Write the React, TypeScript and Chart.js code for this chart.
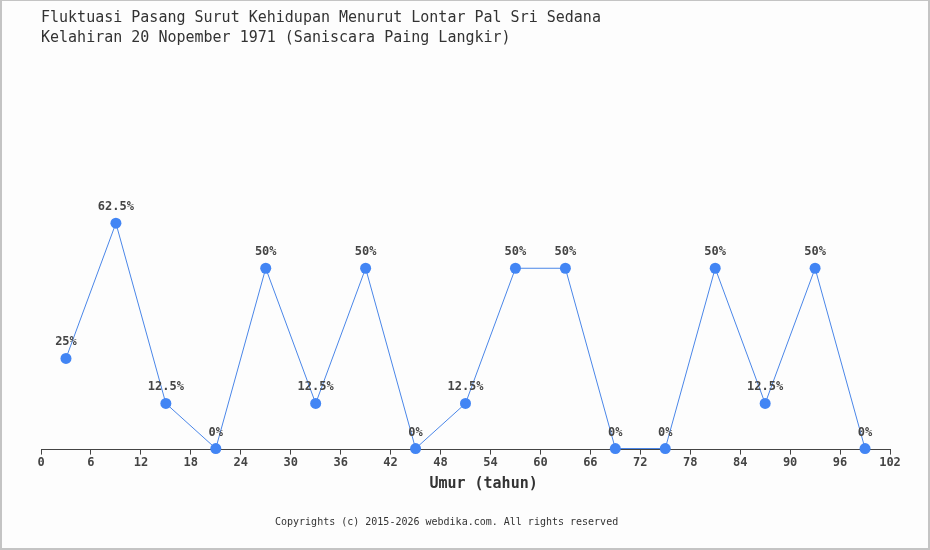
import React, { useEffect, useRef } from "react";
import { Chart, registerables } from "chart.js";

Chart.register(...registerables);

const ages = [3, 9, 15, 21, 27, 33, 39, 45, 51, 57, 63, 69, 75, 81, 87, 93, 99];
const values = [25, 62.5, 12.5, 0, 50, 12.5, 50, 0, 12.5, 50, 50, 0, 0, 50, 12.5, 50, 0];
const titleLines = [
  "Fluktuasi Pasang Surut Kehidupan Menurut Lontar Pal Sri Sedana",
  "Kelahiran 20 Nopember 1971 (Saniscara Paing Langkir)",
];
const xTitle = "    Umur (tahun)";
const footer = "Copyrights (c) 2015-2026 webdika.com. All rights reserved";

const FONT = "'DejaVu Sans Mono', 'Liberation Mono', monospace";

const labelPlugin = {
  id: "pointLabels",
  afterDatasetsDraw(chart: any) {
    const ctx = chart.ctx;
    const meta = chart.getDatasetMeta(0);
    ctx.save();
    ctx.font = `bold 12px ${FONT}`;
    ctx.fillStyle = "#444444";
    ctx.textAlign = "center";
    ctx.textBaseline = "alphabetic";
    meta.data.forEach((pt: any, i: number) => {
      ctx.fillText(`${values[i]}%`, pt.x, pt.y - 13);
    });
    ctx.restore();
  },
};

export default function App() {
  const ref = useRef<HTMLCanvasElement>(null);
  useEffect(() => {
    if (!ref.current) return;
    const chart = new Chart(ref.current, {
      type: "line",
      data: {
        datasets: [
          {
            data: ages.map((a, i) => ({ x: a, y: values[i] })),
            borderColor: "#4a86e8",
            borderWidth: 1,
            backgroundColor: "#4285f4",
            pointBackgroundColor: "#4285f4",
            pointBorderColor: "#4285f4",
            pointBorderWidth: 0,
            pointRadius: 5.5,
            tension: 0,
            fill: false,
            clip: false,
          },
        ],
      },
      options: {
        responsive: false,
        animation: false,
        devicePixelRatio: 1,
        layout: { padding: { left: 41, right: 40, top: 0, bottom: 53 } },
        plugins: {
          legend: { display: false },
          tooltip: { enabled: false },
          title: {
            display: true,
            text: titleLines,
            align: "start",
            color: "#333333",
            font: { family: FONT, size: 15, weight: "normal", lineHeight: 20 / 15 },
            padding: { top: 8, bottom: 40 },
          },
        },
        scales: {
          x: {
            type: "linear",
            min: 0,
            max: 102,
            ticks: {
              stepSize: 6,
              color: "#444444",
              padding: 1,
              font: { family: FONT, size: 12, weight: "bold" },
              maxRotation: 0,
            },
            grid: {
              display: true,
              drawOnChartArea: false,
              drawTicks: true,
              tickLength: 5,
              color: "#444444",
            },
            border: { display: true, color: "#444444", width: 1 },
            title: {
              display: true,
              text: xTitle,
              color: "#333333",
              font: { family: FONT, size: 15, weight: "bold", lineHeight: 1.2 },
              padding: { top: 4, bottom: 4 },
            },
          },
          y: {
            display: false,
            min: -0.3,
            max: 100,
          },
        },
      },
      plugins: [labelPlugin],
    } as any);
    return () => chart.destroy();
  }, []);

  return (
    <div
      style={{
        position: "absolute",
        left: 0,
        top: 0,
        width: 930,
        height: 550,
        background: "#fdfdfd",
      }}
    >
      <canvas ref={ref} width={930} height={550} style={{ display: "block", width: 930, height: 550 }} />
      <div
        style={{
          position: "absolute",
          left: 275,
          top: 516,
          fontFamily: FONT,
          fontSize: 10,
          lineHeight: "12px",
          color: "#333333",
          whiteSpace: "nowrap",
        }}
      >
        {footer}
      </div>
      <div
        style={{
          position: "absolute",
          inset: 0,
          borderTop: "1px solid #c4c4c4",
          borderLeft: "2px solid #c4c4c4",
          borderRight: "2px solid #c4c4c4",
          borderBottom: "2px solid #c4c4c4",
          pointerEvents: "none",
        }}
      />
    </div>
  );
}
